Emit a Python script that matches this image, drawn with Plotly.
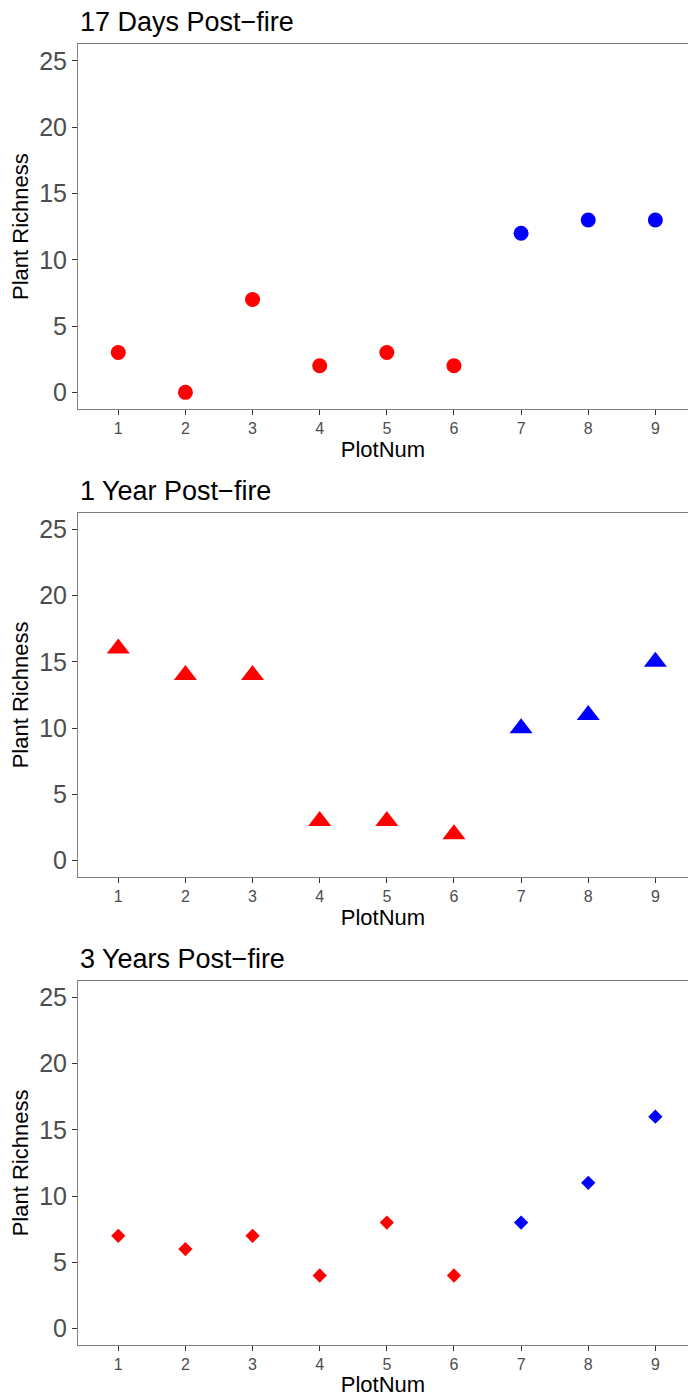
import plotly.graph_objects as go

plot_num = [1, 2, 3, 4, 5, 6, 7, 8, 9]
group = ["Burned"] * 6 + ["Unburned"] * 3
days17 = [3, 0, 7, 2, 3, 2, 12, 13, 13]
year1 = [16, 14, 14, 3, 3, 2, 10, 11, 15]
year3 = [7, 6, 7, 4, 8, 4, 8, 11, 16]
titles = ["17 Days Post\u2212fire", "1 Year Post\u2212fire", "3 Years Post\u2212fire"]
y_ticks = [0, 5, 10, 15, 20, 25]
group_colors = {"Burned": "#FF0000", "Unburned": "#0000FF"}

series = [(days17, "circle", 15), (year1, "triangle-up", 20), (year3, "diamond", 11)]

W, H = 688, 1397
ml, mr, mt, mb = 78, 0, 44, 52
ph = H - mt - mb
# panel pixel extents (from top of figure)
panels_px = [(44.4, 408.9), (512.8, 877.2), (981.0, 1345.0)]

def to_paper(y):
    return (H - mb - y) / ph

fig = go.Figure()
font = "Liberation Sans, Arial, sans-serif"
layout = dict(
    width=W, height=H,
    margin=dict(l=ml, r=mr, t=mt, b=mb),
    paper_bgcolor="white", plot_bgcolor="white",
    showlegend=False,
    font=dict(family=font, color="black"),
)
annotations = []
for i, (vals, sym, sz) in enumerate(series):
    xa = "x" if i == 0 else f"x{i+1}"
    ya = "y" if i == 0 else f"y{i+1}"
    fig.add_trace(go.Scatter(
        x=plot_num, y=vals, mode="markers",
        marker=dict(symbol=sym, size=sz, color=[group_colors[g] for g in group], line=dict(width=0)),
        xaxis=xa, yaxis=ya,
    ))
    top, bot = panels_px[i]
    dom = [max(0, to_paper(bot)), min(1, to_paper(top))]
    key = "" if i == 0 else str(i + 1)
    layout["xaxis" + key] = dict(
        domain=[0, 1], anchor=ya, range=[0.4, 9.486],
        tickvals=plot_num, ticktext=[str(v) for v in plot_num],
        showgrid=False, zeroline=False,
        showline=True, mirror=True, linecolor="#7F7F7F", linewidth=1,
        ticks="outside", ticklen=5, tickwidth=1, tickcolor="#333333",
        tickfont=dict(size=16, color="#4D4D4D", family=font),
        title=dict(text="PlotNum", font=dict(size=22, color="black", family=font), standoff=1),
    )
    layout["yaxis" + key] = dict(
        domain=dom, anchor=xa, range=[-1.25, 26.25],
        tickvals=y_ticks, showgrid=False, zeroline=False,
        showline=True, mirror=False, linecolor="#7F7F7F", linewidth=1,
        ticks="outside", ticklen=5, tickwidth=1, tickcolor="#333333",
        tickfont=dict(size=25, color="#4D4D4D", family=font),
        title=dict(text="Plant Richness", font=dict(size=22, color="black", family=font), standoff=4),
    )
    annotations.append(dict(
        text=titles[i], xref="paper", yref="paper", x=0, y=dom[1],
        xanchor="left", yanchor="bottom", yshift=5, showarrow=False,
        font=dict(size=27, color="black", family=font),
    ))
layout["annotations"] = annotations
fig.update_layout(**layout)
fig.write_html("out.html")
